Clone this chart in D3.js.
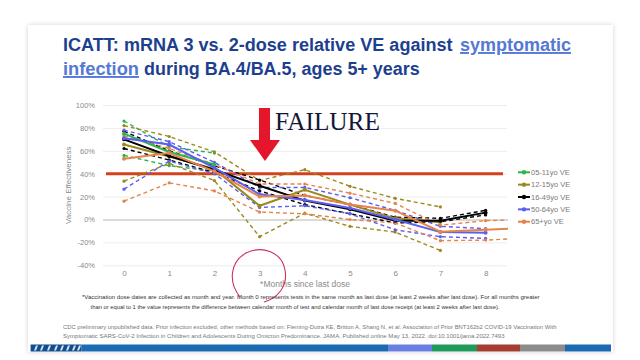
<!DOCTYPE html>
<html><head><meta charset="utf-8">
<script src="https://cdn.jsdelivr.net/npm/d3@7/dist/d3.min.js"></script>
<style>
html,body{margin:0;padding:0;background:#fff;}
svg{display:block;}
</style></head>
<body><svg id="c" width="640" height="360"></svg>
<script>
// ---------- data ----------
const months = [0, 1, 2, 3, 4, 5, 6, 7, 8];
const yTicks = [-40, -20, 0, 20, 40, 60, 80, 100];
const groupNames = ["05-11yo VE", "12-15yo VE", "16-49yo VE", "50-64yo VE", "65+yo VE"];
const groupColors = ["#2bb550", "#9a8a1e", "#000000", "#5b5ef0", "#e5834b"];
const threshold = 40;

// 05-11 years
const ve0511 = [75, 59, 48];
const lo0511 = [56, 47, 42];
const hi0511 = [86, 63.5, 58];
// 12-15 years
const ve1215 = [65.5, 55, 44, 12, 26, 13, 1, -2];
const lo1215 = [33.5, 49, 34, -15, 5.5, -6, -11, -27];
const hi1215 = [82, 72.5, 59, 34, 43.5, 29, 18.5, 11];
// 16-49 years
const ve1649 = [70, 55.5, 43.5, 29.5, 16.5, 9, -1, -1, 6];
const lo1649 = [62, 52, 41, 25, 13, 5, -3, -2, 4];
const hi1649 = [77, 60, 47, 34.5, 21, 13, 2, 1, 8];
// 50-64 years
const ve5064 = [71, 65.5, 45, 22, 17, 10, 0, -11, -11.5];
const lo5064 = [26.5, 51, 40, 10.5, 12, 5, -9, -15, -16.5];
const hi5064 = [78, 68, 50, 28, 28, 19, 8, -6, -8];
// 65+ years (last value runs past the last labelled month)
const ve65 = [53, 58, 42, 20, 21, 13, 7.7, -10.6, -9, -7];
const lo65 = [16, 32, 25, 6.5, 5, 0, -3, -18.5, -18, -16];
const hi65 = [73, 62, 48, 31, 31, 23, 14, -5, -1, 0];

const title1a = "ICATT: mRNA 3 vs. 2-dose relative VE against";
const title1b = "symptomatic";
const title2a = "infection";
const title2b = "during BA.4/BA.5, ages 5+ years";
const note1 = "*Vaccination dose dates are collected as month and year. Month 0 represents tests in the same month as last dose (at least 2 weeks after last dose).  For all months greater";
const note2 = "than or equal to 1 the value represents the difference between calendar month of test and calendar month of last dose receipt (at least 2 weeks after last dose).";
const cite1 = "CDC preliminary unpublished data. Prior infection excluded, other methods based on: Fleming-Dutra KE, Britton A, Shang N, et al. Association of Prior BNT162b2 COVID-19 Vaccination With";
const cite2 = "Symptomatic SARS-CoV-2 Infection in Children and Adolescents During Omicron Predominance. JAMA. Published online May 13, 2022. doi:10.1001/jama.2022.7493";

const series = [
  {name: groupNames[0], color: groupColors[0], ve: ve0511, lo: lo0511, hi: hi0511},
  {name: groupNames[1], color: groupColors[1], ve: ve1215, lo: lo1215, hi: hi1215},
  {name: groupNames[2], color: groupColors[2], ve: ve1649, lo: lo1649, hi: hi1649},
  {name: groupNames[3], color: groupColors[3], ve: ve5064, lo: lo5064, hi: hi5064},
  {name: groupNames[4], color: groupColors[4], ve: ve65, lo: lo65, hi: hi65}
];

// ---------- drawing ----------
const svg = d3.select("#c");
const sans = "'Liberation Sans', Arial, sans-serif";

// slide card
const defs = svg.append("defs");
const f = defs.append("filter").attr("id", "sh").attr("x", "-5%").attr("y", "-5%").attr("width", "110%").attr("height", "110%");
f.append("feGaussianBlur").attr("in", "SourceAlpha").attr("stdDeviation", 2.5);
f.append("feComponentTransfer").append("feFuncA").attr("type", "linear").attr("slope", 0.18);
const fm = f.append("feMerge"); fm.append("feMergeNode"); fm.append("feMergeNode").attr("in", "SourceGraphic");
svg.append("rect").attr("x", 28).attr("y", 25).attr("width", 585).attr("height", 327)
  .attr("fill", "#fff").attr("filter", "url(#sh)");

// text squeezed horizontally to a target width (keeps real box size)
function fitText(txt, x0, y0, len, opts) {
  const t = svg.append("text").attr("x", 0).attr("y", 0).attr("font-family", opts.family || sans)
    .attr("font-weight", opts.weight || "normal").attr("font-size", opts.size).attr("fill", opts.fill)
    .attr("text-decoration", opts.ul ? "underline" : null).text(txt);
  const w = t.node().getComputedTextLength();
  t.attr("transform", `translate(${x0},${y0}) scale(${len / w},1)`);
  return t;
}

// title
fitText(title1a, 63, 51, 390, {size: 19, weight: "bold", fill: "#1d3f8f"});
fitText(title1b, 460, 51, 111, {size: 19, weight: "bold", fill: "#5478d6", ul: true});
fitText(title2a, 63, 75, 76, {size: 19, weight: "bold", fill: "#5478d6", ul: true});
fitText(title2b, 144, 75, 276, {size: 19, weight: "bold", fill: "#1d3f8f"});

// scales
const x = d3.scaleLinear().domain([0, 8]).range([124, 485.6]);
const y = d3.scaleLinear().domain([-40, 100]).range([265.3, 105]);
const plotL = 103, plotR = 507;

// y axis + gridlines
const ya = svg.append("g").attr("transform", `translate(${plotL},0)`)
  .call(d3.axisLeft(y).tickValues(yTicks).tickSize(-(plotR - plotL)).tickPadding(8).tickFormat(d => d + "%"));
ya.select(".domain").remove();
ya.selectAll("line").attr("stroke", d => d === 0 ? "#b5b5b5" : "#ececec").attr("stroke-width", d => d === 0 ? 1.2 : 1);
ya.selectAll("text").attr("font-family", sans).attr("font-size", 7.5).attr("fill", "#8a8a8a");

// x axis
const xa = svg.append("g").attr("transform", `translate(0,${y(-40)})`)
  .call(d3.axisBottom(x).tickValues(months).tickSize(0).tickPadding(5).tickFormat(d3.format("d")));
xa.select(".domain").remove();
xa.selectAll("text").attr("font-family", sans).attr("font-size", 8).attr("fill", "#8a8a8a");

svg.append("text").attr("x", 305).attr("y", 287).attr("text-anchor", "middle")
  .attr("font-family", sans).attr("font-size", 8.5).attr("fill", "#8a8a8a").text("*Months since last dose");
svg.append("text").attr("transform", `translate(71,${y(30)}) rotate(-90)`).attr("text-anchor", "middle")
  .attr("font-family", sans).attr("font-size", 8).attr("fill", "#8a8a8a").text("Vaccine Effectiveness");

// threshold line
svg.append("line").attr("x1", 106).attr("x2", 503).attr("y1", y(threshold)).attr("y2", y(threshold))
  .attr("stroke", "#d3411f").attr("stroke-width", 3);

// clip
defs.append("clipPath").attr("id", "pc").append("rect").attr("x", plotL).attr("y", 95).attr("width", plotR - plotL + 1).attr("height", 180);
const plot = svg.append("g").attr("clip-path", "url(#pc)");
const line = d3.line().x((d, i) => x(i)).y(d => y(d));

// dashed CI lines
series.forEach(s => {
  [s.hi, s.lo].forEach(arr => {
    plot.append("path").attr("d", line(arr)).attr("fill", "none").attr("stroke", s.color)
      .attr("stroke-width", 1.4).attr("stroke-dasharray", "4,3");
    plot.selectAll(null).data(arr).enter().append("circle")
      .attr("cx", (d, i) => x(i)).attr("cy", d => y(d)).attr("r", 1.6).attr("fill", s.color);
  });
});
// solid VE lines
series.forEach(s => {
  plot.append("path").attr("d", line(s.ve)).attr("fill", "none").attr("stroke", s.color).attr("stroke-width", 2);
  plot.selectAll(null).data(s.ve).enter().append("circle")
    .attr("cx", (d, i) => x(i)).attr("cy", d => y(d)).attr("r", 2).attr("fill", s.color);
});

// legend
const lg = svg.append("g");
series.forEach((s, i) => {
  const ly = 172.3 + i * 12.35;
  lg.append("line").attr("x1", 518).attr("x2", 530).attr("y1", ly).attr("y2", ly).attr("stroke", s.color).attr("stroke-width", 2);
  lg.append("circle").attr("cx", 524).attr("cy", ly).attr("r", 2.2).attr("fill", s.color);
  lg.append("text").attr("x", 531).attr("y", ly + 2.6).attr("font-family", sans).attr("font-size", 7.5)
    .attr("fill", "#7a7a7a").text(s.name);
});

// FAILURE annotation
fitText("FAILURE", 275, 130, 105, {size: 25, family: "'Liberation Serif', 'DejaVu Serif', serif", fill: "#15153a"});
svg.append("path").attr("d", "M259,108 L270,108 L270,140 L280,140 L265,161 L250,140 L259,140 Z").attr("fill", "#e5162c");

// hand drawn circle
svg.append("path").attr("d", "M240,297 C228,282 230,262 246,253 C262,245 282,252 285,270 C288,286 278,298 264,302")
  .attr("fill", "none").attr("stroke", "#d2305a").attr("stroke-width", 1.1);

// notes
fitText(note1, 82, 299, 458, {size: 6.2, fill: "#333"});
fitText(note2, 90.6, 309, 409, {size: 6.2, fill: "#333"});
fitText(cite1, 63, 329, 494, {size: 6.2, fill: "#777"});
fitText(cite2, 63, 338, 441, {size: 6.2, fill: "#777"});

// bottom bar
const barSegs = [[30.6, 81.6, "#0f4f91"], [81.6, 388, "#1a6bb2"], [388, 432, "#6a7fe2"], [432, 477, "#1f9a5b"],
                 [477, 520, "#a63d31"], [520, 565, "#8c8c8c"], [565, 611, "#1a6bb2"]];
barSegs.forEach(b => svg.append("rect").attr("x", b[0]).attr("y", 344.5).attr("width", b[1] - b[0]).attr("height", 7).attr("fill", b[2]));
[34, 40, 47, 54, 60, 66, 72, 77].forEach(px => svg.append("path")
  .attr("d", `M${px + 2},345.5 L${px + 4},345.5 L${px + 2},350.5 L${px},350.5 Z`).attr("fill", "#fff").attr("opacity", 0.85));
</script></body></html>
